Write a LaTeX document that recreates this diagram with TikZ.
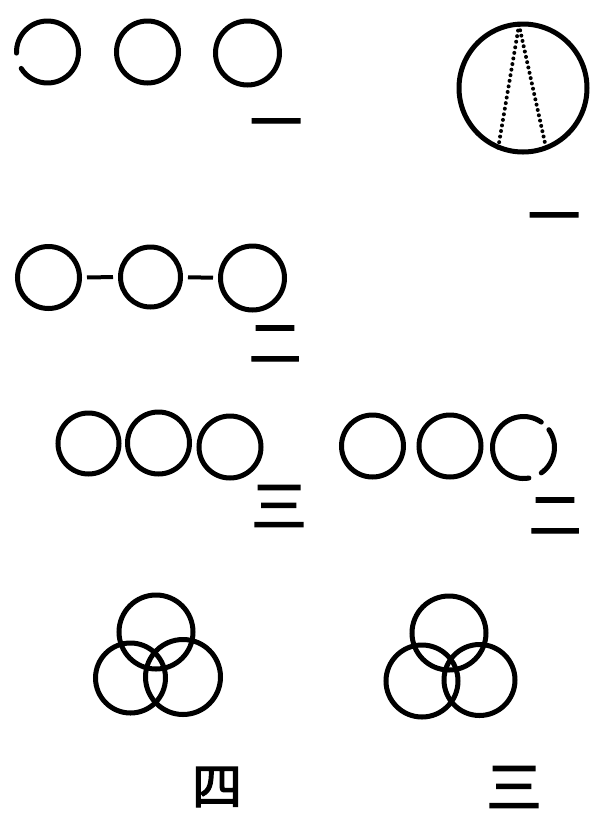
\documentclass[tikz,border=0pt]{standalone}
\usepackage{fontspec}
\usetikzlibrary{calc}
\newfontfamily\cjk[AutoFakeBold=2.5]{Noto Sans CJK SC}
\begin{document}
\begin{tikzpicture}[x=1pt,y=-1pt,
  ring/.style={circle, draw, line width=5pt, minimum size=#1, inner sep=0pt},
  ring/.default=62pt,
  ringspot/.style={circle, minimum size=#1, inner sep=0pt},
  ringspot/.default=62pt,
  ringline/.style={line width=5pt, line cap=round},
  link/.style={line width=4pt, shorten <=5pt, shorten >=5pt},
  dotfill/.style={fill=black},
  numeral/.style={font=\cjk\bfseries\fontsize{#1}{#1}\selectfont, inner sep=0pt},
  numeral/.default=52pt]
\useasboundingbox (0,0) rectangle (592,815);

% Row 1
\node[ringspot] (a1) at (47.5,52) {};
\draw[ringline] (a1.center) ++(178:31) arc[start angle=178, end angle=508, radius=31];
\node[ring] (a2) at (147.5,52) {};
\node[ring=64pt] (a3) at (247.5,53) {};
\node[numeral] (la) at (276,130) {一};

% Big circle
\node[ring=128pt] (big) at (523,88) {};
\coordinate (apex) at (519,25);
\coordinate (bl) at (498,149);
\coordinate (br) at (545,143);
\foreach \t in {0,0.045,...,1.001} {
  \fill[dotfill] ($(apex)!\t!(bl)$) circle (2);
  \fill[dotfill] ($(apex)!\t!(br)$) circle (2);
}
\node[numeral] (lbig) at (554,224) {一};

% Row 2
\node[ring] (b1) at (48.5,277.5) {};
\node[ring=60pt] (b2) at (150.5,277) {};
\node[ring=64pt] (b3) at (252.5,278) {};
\draw[link] (b1) -- (b2);
\draw[link] (b2) -- (b3);
\node[numeral] (lb) at (275,344) {二};

% Row 3 left
\node[ring=61pt] (c1) at (88.5,443.5) {};
\node[ring] (c2) at (158.5,443) {};
\node[ring] (c3) at (230,447) {};
\node[numeral=55pt] (lc) at (279,506) {三};

% Row 3 right
\node[ring] (d1) at (372.5,446) {};
\node[ring] (d2) at (450,446) {};
\node[ringspot] (d3) at (523.5,447.5) {};
\draw[ringline] (d3.center) ++(80:31) arc[start angle=80, end angle=305, radius=31];
\draw[ringline] (d3.center) ++(-35:31) arc[start angle=-35, end angle=55, radius=31];
\node[numeral] (ld) at (555,516) {二};

% Venn left
\node[ring=74pt] (e1) at (156,632) {};
\node[ring=70pt] (e2) at (130.5,678) {};
\node[ring=75pt] (e3) at (183,677) {};
\node[numeral=50pt] (le) at (217,787) {四};

% Venn right
\node[ring=74pt] (f1) at (449,633) {};
\node[ring=72pt] (f2) at (422,681) {};
\node[ring=71pt] (f3) at (479.5,680) {};
\node[numeral=55pt] (lf) at (514,787) {三};
\end{tikzpicture}
\end{document}
